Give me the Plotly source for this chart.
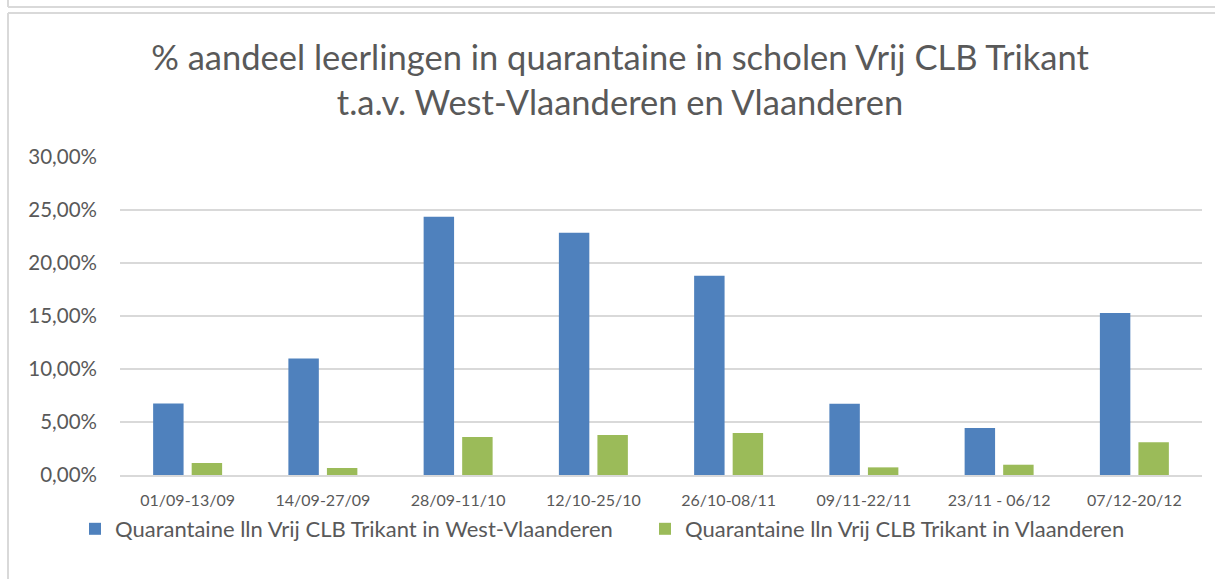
import plotly.graph_objects as go

categories = ["01/09-13/09", "14/09-27/09", "28/09-11/10", "12/10-25/10",
              "26/10-08/11", "09/11-22/11", "23/11 - 06/12", "07/12-20/12"]
west_vlaanderen = [0.0675, 0.1100, 0.2437, 0.2286, 0.1880, 0.0673, 0.0443, 0.1528]
vlaanderen = [0.0113, 0.0066, 0.0358, 0.0377, 0.0396, 0.0072, 0.0097, 0.0308]
series_names = ["Quarantaine lln Vrij CLB Trikant in West-Vlaanderen",
                "Quarantaine lln Vrij CLB Trikant in Vlaanderen"]
y_ticks = [0, 0.05, 0.10, 0.15, 0.20, 0.25, 0.30]

FONT = "Lato"
GREY = "#595959"
W, H = 1215, 579
L, R, T, B = 120, 13, 157, 104
PW, PH = W - L - R, H - T - B


def px_x(px):
    return (px - L) / PW


def px_y(py):
    return (H - B - py) / PH


fig = go.Figure()
fig.add_trace(go.Bar(x=categories, y=west_vlaanderen, name=series_names[0],
                     marker=dict(color="#4F81BD", line=dict(width=0))))
fig.add_trace(go.Bar(x=categories, y=vlaanderen, name=series_names[1],
                     marker=dict(color="#9BBB59", line=dict(width=0))))

border = dict(color="#D9D9D9", width=2)
shapes = [
    dict(type="line", xref="paper", yref="paper", x0=px_x(8), x1=px_x(1216), y0=px_y(13), y1=px_y(13), line=border),
    dict(type="line", xref="paper", yref="paper", x0=px_x(8), x1=px_x(8), y0=px_y(13), y1=px_y(580), line=border),
    dict(type="line", xref="paper", yref="paper", x0=px_x(8), x1=px_x(1216), y0=px_y(7), y1=px_y(7), line=border),
    dict(type="line", xref="paper", yref="paper", x0=px_x(8), x1=px_x(8), y0=px_y(-1), y1=px_y(7), line=border),
]

fig.update_layout(
    width=W, height=H,
    margin=dict(l=L, r=R, t=T, b=B),
    paper_bgcolor="white", plot_bgcolor="white",
    separators=",.",
    barmode="group", bargap=0.43, bargroupgap=0.21,
    font=dict(family=FONT, color=GREY),
    title=dict(text="% aandeel leerlingen in quarantaine in scholen Vrij CLB Trikant<br>t.a.v. West-Vlaanderen en Vlaanderen",
               x=620 / W, xanchor="center", y=1 - 70 / H, yanchor="middle",
               font=dict(family=FONT, size=34.5, color=GREY)),
    xaxis=dict(showgrid=False, showline=True, linecolor="#D9D9D9", linewidth=1.5,
               tickfont=dict(size=16, color=GREY), ticks="", ticklabelstandoff=10),
    yaxis=dict(range=[0, 0.30], tickvals=y_ticks, tickformat=".2%",
               showgrid=True, gridcolor="#D9D9D9", gridwidth=1.5,
               zeroline=False, showline=False, ticks="",
               tickfont=dict(size=20.5, color=GREY), ticklabelstandoff=22),
    legend=dict(orientation="h", x=px_x(114), xanchor="left", y=px_y(508), yanchor="top",
                font=dict(size=22, color=GREY), itemwidth=30, entrywidth=525,
                traceorder="normal"),
    shapes=shapes,
)

fig.write_html("out.html", config={"displayModeBar": False},
               post_script="document.body.style.margin='0';document.body.style.overflow='hidden';")
